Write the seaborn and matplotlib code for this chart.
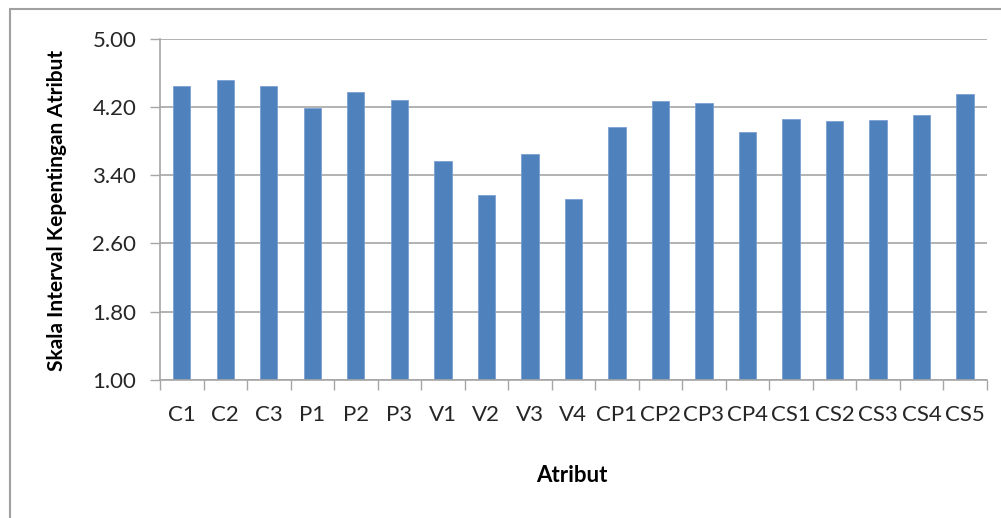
import matplotlib
matplotlib.use("Agg")
import matplotlib.pyplot as plt
import seaborn as sns
import pandas as pd
from matplotlib.lines import Line2D

# Attribute codes and their importance-scale scores
atribut = ["C1", "C2", "C3", "P1", "P2", "P3", "V1", "V2", "V3", "V4",
           "CP1", "CP2", "CP3", "CP4", "CS1", "CS2", "CS3", "CS4", "CS5"]
skor = [4.44, 4.51, 4.44, 4.19, 4.37, 4.28, 3.56, 3.17, 3.65, 3.12,
        3.97, 4.27, 4.25, 3.91, 4.06, 4.04, 4.05, 4.10, 4.35]
y_ticks = [1.00, 1.80, 2.60, 3.40, 4.20, 5.00]

df = pd.DataFrame({"Atribut": atribut, "Skor": skor})

sns.set_theme(style="white")
plt.rcParams["font.family"] = ["Lato", "DejaVu Sans"]

BAR = "#4F81BD"
GRID = "#A6A6A6"
TXT = "#262626"

fig = plt.figure(figsize=(10.01, 5.18), dpi=100)
ax = fig.add_axes([160 / 1001, 1 - 379.7 / 518, (986.7 - 160) / 1001, (379.7 - 38.7) / 518])

sns.barplot(data=df, x="Atribut", y="Skor", color=BAR, width=0.4,
            edgecolor="#7BA0D4", linewidth=0.6, saturation=1, ax=ax)

ax.set_ylim(1.0, 5.0)
ax.set_xlim(-0.5, len(atribut) - 0.5)
ax.set_yticks(y_ticks)
ax.set_yticklabels([f"{v:.2f}" for v in y_ticks])

# Horizontal gridlines behind the bars
ax.set_axisbelow(True)
ax.yaxis.grid(True, color=GRID, linewidth=1.2)
ax.xaxis.grid(False)

# Category-boundary tick marks on the x axis
ax.set_xticks([i - 0.5 for i in range(len(atribut) + 1)], minor=True)
ax.tick_params(axis="x", which="minor", length=7, width=1.0, color=GRID, bottom=True)
ax.tick_params(axis="x", which="major", length=0, pad=18, labelsize=16, labelcolor=TXT)
ax.tick_params(axis="y", which="major", length=7, width=1.0, color=GRID, left=True,
               pad=10, labelsize=16, labelcolor=TXT)

for side in ["top", "right"]:
    ax.spines[side].set_visible(False)
for side in ["left", "bottom"]:
    ax.spines[side].set_color(GRID)
    ax.spines[side].set_linewidth(1.2)

ax.set_xlabel("")
ax.set_ylabel("")
fig.text(572 / 1001, 1 - 476 / 518, "Atribut", ha="center", va="center",
         fontsize=16, fontweight="bold", color="#000000")
fig.text(57 / 1001, 1 - 210 / 518, "Skala Interval Kepentingan Atribut", ha="center",
         va="center", rotation=90, fontsize=15, fontweight="bold", color="#000000")

# Chart-area frame (left and top edges)
fig.add_artist(Line2D([10 / 1001, 10 / 1001], [0, 1 - 9 / 518], transform=fig.transFigure,
                      color="#A0A0A0", linewidth=1.5))
fig.add_artist(Line2D([10 / 1001, 1], [1 - 9 / 518, 1 - 9 / 518], transform=fig.transFigure,
                      color="#A0A0A0", linewidth=1.5))

fig.savefig("out.png", dpi=100, facecolor="white")
